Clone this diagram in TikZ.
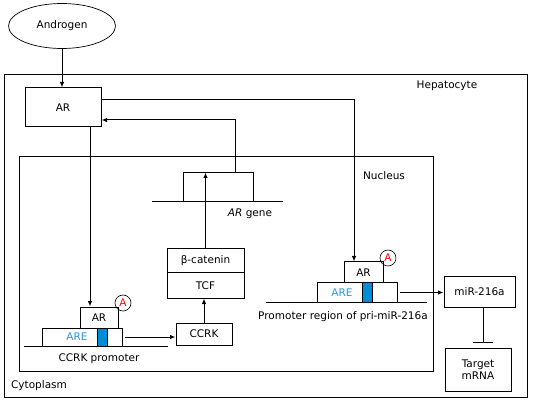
\documentclass[tikz,border=0pt]{standalone}
\usepackage{fontspec}
\setmainfont{DejaVu Sans}
\usepackage{tikz}
\usetikzlibrary{arrows.meta,shapes,calc}
\definecolor{areblue}{RGB}{40,150,215}
\definecolor{barblue}{RGB}{0,140,215}
\tikzstyle{blk}=[rectangle, draw, inner sep=0pt, line width=1pt,% plain box
font=\fontsize{10.5}{12}\selectfont, align=center]
\tikzstyle{bar}=[rectangle, draw, fill=barblue, inner sep=0pt, line width=1pt, minimum width=10pt]
\tikzstyle{phos}=[circle, draw, inner sep=0pt, minimum size=16pt, line width=0.6pt, text=red,% phosphate mark
font=\fontsize{10.5}{12}\selectfont]
\tikzstyle{lbl}=[inner sep=0pt, font=\fontsize{10.5}{12}\selectfont]
\tikzstyle{dgraph}=[-{Latex[length=5.5pt,width=4.5pt]}, line width=1pt]
\tikzstyle{inhib}=[-{Bar[width=20pt,line width=1pt]}, line width=1pt]
\begin{document}
\begin{tikzpicture}[x=1pt,y=-1pt,line width=1pt]
\useasboundingbox (0,0) rectangle (533,406);
% cell and nucleus
\draw (4,75) rectangle (527,397);
\draw (19,157) rectangle (433,371);
\node[lbl] (hep) at (447,86) {Hepatocyte};
\node[lbl] (nuc) at (384,176) {Nucleus};
\node[lbl] (cyt) at (39,386) {Cytoplasm};
\node[blk, ellipse, line width=0.7pt, minimum width=107pt, minimum height=45pt] (andro) at (62,26) {Androgen};
\node[blk, minimum width=76pt, minimum height=39pt] (arTop) at (63,107.5) {AR};
% AR gene
\node[minimum width=69pt, minimum height=29pt] (gene) at (218.5,187.5) {};
\draw (gene.south west) -- (gene.north west) -- (gene.north east) -- (gene.south east);
\draw (152,202) -- (283,202);
\node[lbl] (geneLbl) at (250,214) {\textit{AR} gene};
\node[blk, minimum width=77pt, minimum height=24pt] (bcat) at (205.5,261) {β-catenin};
\node[blk, minimum width=77pt, minimum height=25pt] (tcf) at (205.5,285.5) {TCF};
\draw[line width=1.8pt] (tcf.north west) -- (tcf.north east);
\node[blk, minimum width=56pt, minimum height=22pt] (ccrk) at (204,334) {CCRK};
% CCRK promoter
\draw (24,346) -- (168,346);
\node[blk, minimum width=80pt, minimum height=18pt] (areL) at (82,337) {};
\node[lbl, text=areblue] at (77,337) {ARE};
\node[bar, minimum height=18pt] (barL) at (102,337) {};
\node[blk, minimum width=38pt, minimum height=21pt] (arL) at (99,317.5) {AR};
\node[phos] (phL) at (123,303) {A};
\node[lbl] (promL) at (99,359) {CCRK promoter};
% miR-216a promoter
\draw (266,302) -- (427,302);
\node[blk, minimum width=80pt, minimum height=19pt] (areR) at (357,292.5) {};
\node[lbl, text=areblue] at (342,292.5) {ARE};
\node[bar, minimum height=19pt] (barR) at (367,292.5) {};
\node[blk, minimum width=39pt, minimum height=21pt] (arR) at (363.5,272.5) {AR};
\node[phos] (phR) at (388,258) {A};
\node[lbl] (promR) at (343,317) {Promoter region of pri-miR-216a};
\node[blk, minimum width=71pt, minimum height=30pt] (mir) at (479.5,292) {miR-216a};
\node[blk, minimum width=66pt, minimum height=43pt] (target) at (478,369.5) {Target\\mRNA};
% connectors
\draw[dgraph] (andro.south) -- (andro.south |- arTop.north);
\draw[dgraph] ([yshift=7.5pt]arTop.east) -| ([xshift=-9.5pt]arR.north);
\draw[dgraph] ([xshift=16.5pt]gene.north) |- ([yshift=-12.5pt]arTop.east);
\draw[dgraph] ([xshift=-9pt]arL.north |- arTop.south) -- ([xshift=-9pt]arL.north);
\draw[dgraph] (bcat.north) -- (bcat.north |- gene.north);
\draw[dgraph] (ccrk.north) -- (ccrk.north |- tcf.south);
\draw[dgraph] ([xshift=2pt]areL.east) -- (areL.east -| ccrk.west);
\draw[dgraph] ([xshift=2pt]areR.east) -- (areR.east -| mir.west);
\draw[inhib] ([xshift=3.5pt]mir.south) -- ([xshift=5pt,yshift=5pt]target.north);
\end{tikzpicture}
\end{document}
